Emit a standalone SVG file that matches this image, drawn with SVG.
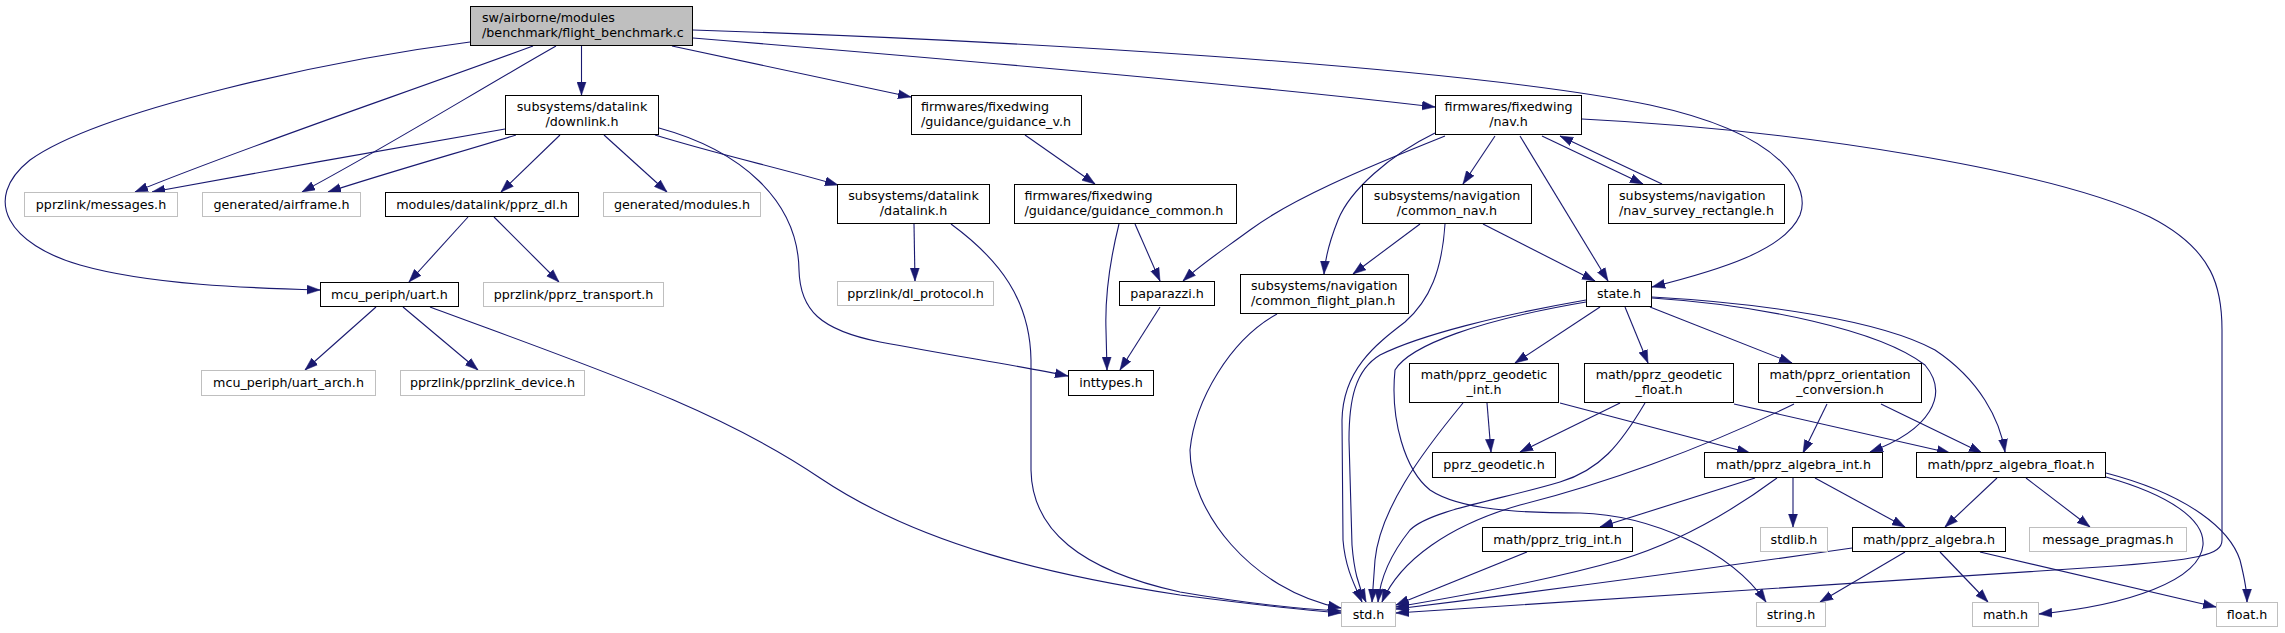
<svg xmlns="http://www.w3.org/2000/svg" width="2285" height="633" viewBox="0 0 2285 633">
<style>
.n rect{fill:#fff;stroke:#000;stroke-width:1}
.g rect{fill:#fff;stroke:#bfbfbf;stroke-width:1}
.r rect{fill:#bfbfbf;stroke:#000;stroke-width:1}
text{font-family:"DejaVu Sans",sans-serif;font-size:12.7px;fill:#000}
.c{text-anchor:middle}
#edges path{fill:none;stroke:#191970;stroke-width:1.1;marker-end:url(#a)}
</style>
<defs>
<marker id="a" markerUnits="userSpaceOnUse" markerWidth="13" markerHeight="10" refX="13" refY="5" orient="auto" viewBox="0 0 13 10"><path d="M0,0.5 L13,5 L0,9.5 z" fill="#191970" stroke="#191970" stroke-width="0.5"/></marker>
</defs>
<rect width="2285" height="633" fill="#fff"/>
<g id="edges">
<path d="M581.5,46 L581.5,95"/>
<path d="M533,46 C400,95 250,145 135,192"/>
<path d="M556,46 C470,95 390,145 302,192"/>
<path d="M470,42 C330,60 100,110 30,160 C-20,200 10,245 80,265 C150,285 250,288 320,290"/>
<path d="M672,46 C760,65 840,82 911,97"/>
<path d="M693,38 C900,55 1250,85 1435,107"/>
<path d="M693,30 C1000,40 1450,65 1650,105 C1790,135 1810,190 1800,215 C1785,250 1720,270 1652,287"/>
<path d="M505,129 C400,147 260,172 152,192"/>
<path d="M516,135 C450,155 390,172 328,192"/>
<path d="M560,135 L501,192"/>
<path d="M604,135 L667,192"/>
<path d="M655,135 C720,155 780,168 838,185"/>
<path d="M659,128 C740,150 798,200 799,270 C800,310 820,330 880,342 C960,357 1020,366 1068,376"/>
<path d="M468,217 L409,282"/>
<path d="M494,217 L559,282"/>
<path d="M376,307 L305,370"/>
<path d="M403,307 L478,370"/>
<path d="M430,307 C600,370 720,410 820,478 C920,545 1050,575 1180,595 C1250,604 1300,610 1341,613"/>
<path d="M914,224 L915,281"/>
<path d="M951,224 C1000,260 1030,300 1031,360 L1031,470 C1032,530 1080,570 1180,592 C1250,604 1300,609 1341,611"/>
<path d="M1025,135 L1095,184"/>
<path d="M1135,224 L1160,281"/>
<path d="M1119,224 C1110,260 1105,300 1106,330 L1107,370"/>
<path d="M1160,307 L1120,370"/>
<path d="M1445,136 C1360,170 1290,200 1250,230 C1220,252 1200,265 1183,281"/>
<path d="M1435,133 C1390,155 1350,190 1338,220 C1328,245 1325,260 1324,274"/>
<path d="M1495,136 L1463,184"/>
<path d="M1520,136 L1608,281"/>
<path d="M1542,136 L1643,184"/>
<path d="M1662,184 L1560,136"/>
<path d="M1582,119 C1800,130 2050,170 2150,217 C2215,250 2222,290 2222,330 L2222,540 C2222,555 2200,560 2100,567 C1900,580 1600,600 1396,613"/>
<path d="M1420,224 L1353,274"/>
<path d="M1483,224 L1595,281"/>
<path d="M1445,224 C1442,270 1430,300 1405,322 C1375,345 1343,370 1342,420 L1343,540 C1345,565 1352,580 1362,602"/>
<path d="M1277,314 C1230,340 1195,400 1190,450 C1190,510 1250,590 1341,608"/>
<path d="M1586,300 C1500,315 1420,335 1380,355 C1355,370 1349,400 1349,440 L1352,545 C1354,570 1358,585 1366,602"/>
<path d="M1586,302 C1480,320 1410,345 1395,370 C1390,420 1405,470 1430,490 C1460,510 1520,513 1580,513 C1650,515 1730,550 1766,602"/>
<path d="M1600,307 L1515,363"/>
<path d="M1625,307 L1648,363"/>
<path d="M1650,307 L1792,363"/>
<path d="M1652,298 C1760,305 1880,330 1925,365 C1950,395 1930,430 1870,452"/>
<path d="M1652,297 C1760,303 1880,320 1935,350 C1980,380 2000,420 2005,452"/>
<path d="M1487,403 L1491,452"/>
<path d="M1560,403 L1750,453"/>
<path d="M1463,403 C1420,455 1380,510 1375,560 L1372,602"/>
<path d="M1645,403 C1620,445 1600,470 1560,482 C1500,500 1430,510 1410,530 C1390,555 1380,580 1378,602"/>
<path d="M1620,403 L1520,452"/>
<path d="M1734,404 L1950,453"/>
<path d="M1827,404 L1803,453"/>
<path d="M1881,404 L1982,453"/>
<path d="M1794,404 C1700,450 1600,485 1520,505 C1450,525 1400,560 1382,602"/>
<path d="M1755,478 L1600,527"/>
<path d="M1793,478 L1793,527"/>
<path d="M1815,478 L1905,527"/>
<path d="M1777,478 C1720,520 1670,545 1620,560 C1550,580 1450,598 1396,607"/>
<path d="M1997,478 L1945,527"/>
<path d="M2026,478 L2090,527"/>
<path d="M2106,477 C2170,495 2205,520 2203,545 C2200,580 2130,605 2039,614"/>
<path d="M2106,473 C2190,495 2230,530 2240,560 C2245,580 2247,595 2247,602"/>
<path d="M1852,548 C1700,570 1550,590 1396,609"/>
<path d="M1905,552 L1820,602"/>
<path d="M1940,552 L1988,602"/>
<path d="M1980,552 L2216,607"/>
<path d="M1527,552 L1396,605"/>
</g>
<g id="n_root" class="r"><rect x="470.5" y="6.5" width="222" height="39"/><text x="482" y="22">sw/airborne/modules</text><text x="482" y="37">/benchmark/flight_benchmark.c</text></g>
<g id="n_downlink" class="n"><rect x="505.5" y="95.5" width="153" height="39"/><text class="c" x="582" y="111">subsystems/datalink</text><text class="c" x="582" y="126">/downlink.h</text></g>
<g id="n_messages" class="g"><rect x="24.5" y="192.5" width="153" height="24"/><text class="c" x="101" y="208.5">pprzlink/messages.h</text></g>
<g id="n_airframe" class="g"><rect x="202.5" y="192.5" width="158" height="24"/><text class="c" x="281.5" y="208.5">generated/airframe.h</text></g>
<g id="n_pprz_dl" class="n"><rect x="385.5" y="192.5" width="193" height="24"/><text class="c" x="482" y="208.5">modules/datalink/pprz_dl.h</text></g>
<g id="n_modules" class="g"><rect x="603.5" y="192.5" width="157" height="24"/><text class="c" x="682" y="208.5">generated/modules.h</text></g>
<g id="n_uart" class="n"><rect x="320.5" y="282.5" width="138" height="24"/><text class="c" x="389.5" y="298.5">mcu_periph/uart.h</text></g>
<g id="n_transport" class="g"><rect x="483.5" y="282.5" width="180" height="24"/><text class="c" x="573.5" y="298.5">pprzlink/pprz_transport.h</text></g>
<g id="n_uart_arch" class="g"><rect x="201.5" y="370.5" width="174" height="25"/><text class="c" x="288.5" y="387">mcu_periph/uart_arch.h</text></g>
<g id="n_device" class="g"><rect x="400.5" y="370.5" width="184" height="25"/><text class="c" x="492.5" y="387">pprzlink/pprzlink_device.h</text></g>
<g id="n_guidance_v" class="n"><rect x="911.5" y="95.5" width="170" height="39"/><text x="921" y="111">firmwares/fixedwing</text><text x="921" y="126">/guidance/guidance_v.h</text></g>
<g id="n_nav" class="n"><rect x="1435.5" y="95.5" width="146" height="39"/><text class="c" x="1508.5" y="111">firmwares/fixedwing</text><text class="c" x="1508.5" y="126">/nav.h</text></g>
<g id="n_datalink" class="n"><rect x="837.5" y="184.5" width="152" height="39"/><text class="c" x="913.5" y="200">subsystems/datalink</text><text class="c" x="913.5" y="215">/datalink.h</text></g>
<g id="n_guidance_common" class="n"><rect x="1014.5" y="184.5" width="222" height="39"/><text x="1024.5" y="200">firmwares/fixedwing</text><text x="1024.5" y="215">/guidance/guidance_common.h</text></g>
<g id="n_common_nav" class="n"><rect x="1362.5" y="184.5" width="169" height="39"/><text class="c" x="1447" y="200">subsystems/navigation</text><text class="c" x="1447" y="215">/common_nav.h</text></g>
<g id="n_survey" class="n"><rect x="1608.5" y="184.5" width="176" height="39"/><text x="1619" y="200">subsystems/navigation</text><text x="1619" y="215">/nav_survey_rectangle.h</text></g>
<g id="n_dl_protocol" class="g"><rect x="837.5" y="281.5" width="156" height="24"/><text class="c" x="915.5" y="297.5">pprzlink/dl_protocol.h</text></g>
<g id="n_paparazzi" class="n"><rect x="1119.5" y="281.5" width="95" height="24"/><text class="c" x="1167" y="297.5">paparazzi.h</text></g>
<g id="n_cfp" class="n"><rect x="1240.5" y="274.5" width="168" height="39"/><text x="1251" y="290">subsystems/navigation</text><text x="1251" y="305">/common_flight_plan.h</text></g>
<g id="n_state" class="n"><rect x="1586.5" y="281.5" width="65" height="25"/><text class="c" x="1619" y="298">state.h</text></g>
<g id="n_inttypes" class="n"><rect x="1068.5" y="370.5" width="85" height="25"/><text class="c" x="1111" y="387">inttypes.h</text></g>
<g id="n_geodetic_int" class="n"><rect x="1409.5" y="363.5" width="149" height="39"/><text class="c" x="1484" y="379">math/pprz_geodetic</text><text class="c" x="1484" y="394">_int.h</text></g>
<g id="n_geodetic_float" class="n"><rect x="1584.5" y="363.5" width="149" height="39"/><text class="c" x="1659" y="379">math/pprz_geodetic</text><text class="c" x="1659" y="394">_float.h</text></g>
<g id="n_orientation" class="n"><rect x="1758.5" y="363.5" width="163" height="39"/><text class="c" x="1840" y="379">math/pprz_orientation</text><text class="c" x="1840" y="394">_conversion.h</text></g>
<g id="n_pprz_geodetic" class="n"><rect x="1432.5" y="452.5" width="123" height="25"/><text class="c" x="1494" y="469">pprz_geodetic.h</text></g>
<g id="n_algebra_int" class="n"><rect x="1704.5" y="452.5" width="178" height="25"/><text class="c" x="1793.5" y="469">math/pprz_algebra_int.h</text></g>
<g id="n_algebra_float" class="n"><rect x="1916.5" y="452.5" width="189" height="25"/><text class="c" x="2011" y="469">math/pprz_algebra_float.h</text></g>
<g id="n_trig_int" class="n"><rect x="1482.5" y="527.5" width="150" height="24"/><text class="c" x="1557.5" y="543.5">math/pprz_trig_int.h</text></g>
<g id="n_stdlib" class="g"><rect x="1760.5" y="527.5" width="67" height="24"/><text class="c" x="1794" y="543.5">stdlib.h</text></g>
<g id="n_algebra" class="n"><rect x="1852.5" y="527.5" width="153" height="24"/><text class="c" x="1929" y="543.5">math/pprz_algebra.h</text></g>
<g id="n_pragmas" class="g"><rect x="2029.5" y="527.5" width="157" height="24"/><text class="c" x="2108" y="543.5">message_pragmas.h</text></g>
<g id="n_std" class="g"><rect x="1341.5" y="602.5" width="54" height="24"/><text class="c" x="1368.5" y="618.5">std.h</text></g>
<g id="n_string" class="g"><rect x="1756.5" y="602.5" width="69" height="24"/><text class="c" x="1791" y="618.5">string.h</text></g>
<g id="n_math" class="g"><rect x="1972.5" y="602.5" width="66" height="24"/><text class="c" x="2005.5" y="618.5">math.h</text></g>
<g id="n_float" class="g"><rect x="2216.5" y="602.5" width="61" height="24"/><text class="c" x="2247" y="618.5">float.h</text></g>
</svg>
